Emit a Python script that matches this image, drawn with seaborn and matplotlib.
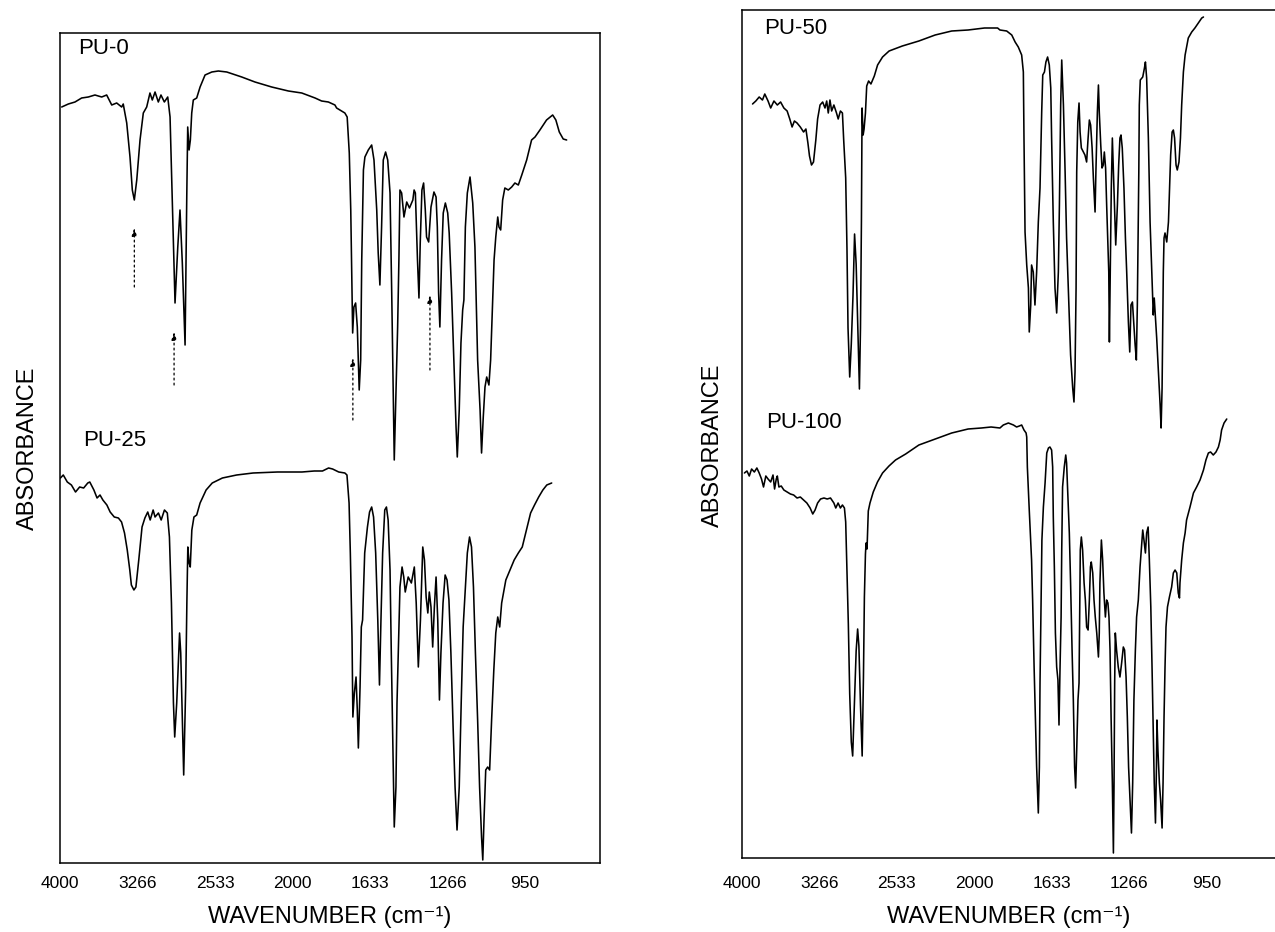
import numpy as np
import pandas as pd
import matplotlib
matplotlib.use("Agg")
import matplotlib.pyplot as plt
import seaborn as sns

# ---------------- data (wavenumber in cm-1, absorbance in arbitrary units) ----------------
tick_wavenumbers = [4000, 3266, 2533, 2000, 1633, 1266, 950]
tick_labels = ["4000", "3266", "2533", "2000", "1633", "1266", "950"]

pu0_wn = [3984, 3921, 3858, 3795, 3732, 3669, 3605, 3558, 3510, 3463,
          3416, 3401, 3368, 3337, 3315, 3296, 3273, 3242, 3211, 3179,
          3148, 3126, 3100, 3069, 3044, 3012, 2980, 2958, 2942, 2911,
          2885, 2864, 2842, 2816, 2800, 2791, 2778, 2766, 2753, 2738,
          2706, 2674, 2627, 2563, 2510, 2452, 2349, 2258, 2143, 2028,
          1956, 1893, 1862, 1830, 1799, 1791, 1752, 1741, 1731, 1724,
          1715, 1709, 1701, 1693, 1684, 1677, 1672, 1664, 1657, 1641,
          1625, 1614, 1601, 1594, 1586, 1578, 1570, 1559, 1549, 1538,
          1530, 1523, 1518, 1510, 1502, 1496, 1491, 1483, 1472, 1459,
          1446, 1430, 1424, 1418, 1408, 1401, 1395, 1387, 1379, 1371,
          1365, 1355, 1344, 1330, 1320, 1314, 1308, 1302, 1294, 1286,
          1276, 1265, 1259, 1249, 1240, 1231, 1226, 1218, 1211, 1204,
          1199, 1193, 1185, 1174, 1163, 1154, 1143, 1133, 1127, 1120,
          1113, 1106, 1097, 1090, 1083, 1076, 1069, 1061, 1056, 1049,
          1041, 1032, 1018, 1004, 991, 977, 963, 943, 923, 909,
          889, 862, 837, 824, 810, 794, 780]
pu0_abs = [75.6, 75.9, 76.1, 76.5, 76.6, 76.8, 76.6, 76.8, 75.8, 76.0,
           75.6, 75.9, 74.0, 70.6, 67.3, 66.3, 68.3, 72.3, 75.0, 75.6,
           77.0, 76.3, 77.1, 76.1, 76.8, 76.1, 76.6, 74.6, 68.3, 56.0,
           61.6, 65.3, 60.0, 51.8, 66.6, 73.6, 71.3, 72.3, 75.0, 76.3,
           76.5, 77.6, 78.8, 79.1, 79.2, 79.1, 78.6, 78.1, 77.6, 77.2,
           77.0, 76.5, 76.2, 76.1, 75.8, 75.5, 75.0, 74.6, 71.0, 65.3,
           53.0, 55.6, 56.0, 53.6, 47.3, 50.3, 60.3, 69.3, 70.6, 71.3,
           71.8, 70.3, 65.3, 61.0, 57.8, 63.6, 70.3, 71.1, 70.3, 67.0,
           57.0, 47.0, 40.3, 47.0, 53.6, 60.3, 67.3, 67.0, 64.6, 66.1,
           65.5, 66.3, 67.3, 67.0, 60.3, 56.5, 62.0, 67.3, 68.0, 65.3,
           62.6, 62.1, 65.6, 67.1, 66.6, 63.6, 57.0, 53.6, 60.3, 65.0,
           66.0, 65.0, 63.0, 57.0, 50.3, 43.6, 40.6, 45.3, 52.0, 55.3,
           56.3, 63.6, 67.0, 68.6, 66.0, 61.6, 50.3, 45.3, 41.0, 44.6,
           47.6, 48.6, 47.8, 50.3, 55.3, 60.3, 62.6, 64.6, 63.6, 63.3,
           66.3, 67.5, 67.3, 67.6, 68.0, 67.8, 68.8, 70.3, 72.3, 72.6,
           73.3, 74.3, 74.8, 74.3, 73.1, 72.4, 72.3]

pu25_wn = [3996, 3969, 3931, 3892, 3853, 3814, 3776, 3737, 3718, 3679,
           3649, 3621, 3594, 3556, 3525, 3486, 3447, 3417, 3389, 3363,
           3339, 3324, 3300, 3281, 3254, 3223, 3196, 3169, 3146, 3118,
           3100, 3068, 3042, 3011, 2984, 2964, 2945, 2926, 2914, 2895,
           2876, 2868, 2857, 2842, 2829, 2810, 2799, 2790, 2778, 2767,
           2752, 2732, 2706, 2674, 2617, 2559, 2482, 2384, 2271, 2103,
           1955, 1897, 1858, 1829, 1810, 1781, 1752, 1742, 1732, 1726,
           1718, 1714, 1707, 1699, 1693, 1688, 1680, 1674, 1668, 1658,
           1645, 1635, 1625, 1616, 1606, 1596, 1588, 1581, 1573, 1563,
           1555, 1547, 1538, 1532, 1524, 1518, 1510, 1505, 1497, 1491,
           1481, 1473, 1466, 1452, 1437, 1423, 1414, 1404, 1394, 1383,
           1375, 1367, 1359, 1352, 1344, 1336, 1328, 1320, 1312, 1304,
           1297, 1287, 1277, 1268, 1260, 1252, 1243, 1235, 1227, 1218,
           1210, 1202, 1193, 1185, 1176, 1168, 1160, 1152, 1143, 1135,
           1127, 1122, 1117, 1110, 1102, 1094, 1086, 1077, 1069, 1061,
           1053, 1045, 1028, 1011, 994, 977, 961, 944, 927, 911,
           894, 877, 861, 841]
pu25_abs = [38.5, 38.8, 38.1, 37.8, 37.1, 37.6, 37.5, 38.0, 38.1, 37.3,
            36.5, 36.8, 36.3, 35.8, 35.1, 34.6, 34.5, 34.1, 33.0, 31.3,
            29.3, 27.8, 27.3, 27.6, 30.3, 33.6, 34.5, 35.1, 34.3, 35.3,
            34.6, 35.0, 34.3, 35.3, 35.0, 32.6, 26.0, 16.0, 12.6, 16.0,
            21.0, 23.0, 21.0, 14.3, 8.8, 17.6, 26.0, 31.6, 30.0, 29.6,
            33.3, 34.6, 34.8, 36.0, 37.3, 38.0, 38.5, 38.8, 39.0, 39.1,
            39.1, 39.2, 39.2, 39.5, 39.4, 39.1, 39.0, 38.8, 36.0, 31.0,
            22.6, 14.6, 17.0, 18.6, 15.3, 11.5, 17.6, 23.6, 24.3, 31.0,
            33.6, 35.1, 35.6, 34.6, 31.0, 24.3, 17.8, 24.3, 31.0, 35.3,
            35.6, 34.3, 29.3, 21.0, 11.0, 3.6, 7.6, 16.0, 22.6, 27.6,
            29.6, 28.6, 27.1, 28.6, 28.0, 29.6, 26.0, 19.6, 24.3, 31.6,
            30.3, 26.6, 25.0, 27.1, 25.6, 21.6, 25.6, 28.6, 24.3, 16.3,
            21.0, 26.0, 28.8, 28.3, 26.3, 21.0, 13.6, 7.6, 3.3, 7.6,
            16.0, 23.6, 27.6, 31.0, 32.6, 31.6, 27.6, 21.0, 14.3, 7.6,
            2.6, 0.3, 4.3, 9.3, 9.6, 9.3, 14.3, 19.3, 23.0, 24.6,
            23.6, 26.0, 28.3, 29.3, 30.3, 31.0, 31.6, 33.3, 35.0, 35.8,
            36.6, 37.3, 37.8, 38.0]

pu50_wn = [3900, 3869, 3837, 3806, 3784, 3753, 3728, 3697, 3665, 3634,
           3603, 3572, 3547, 3525, 3503, 3478, 3447, 3416, 3394, 3375,
           3360, 3341, 3322, 3300, 3283, 3260, 3235, 3213, 3197, 3182,
           3166, 3150, 3129, 3104, 3088, 3067, 3048, 3036, 3017, 3005,
           2995, 2979, 2964, 2948, 2933, 2918, 2902, 2887, 2877, 2868,
           2862, 2852, 2843, 2830, 2818, 2800, 2778, 2746, 2715, 2668,
           2606, 2495, 2381, 2269, 2155, 2042, 1951, 1889, 1878, 1846,
           1822, 1806, 1791, 1775, 1767, 1764, 1759, 1751, 1743, 1739,
           1732, 1728, 1720, 1712, 1704, 1696, 1688, 1680, 1675, 1667,
           1660, 1652, 1644, 1637, 1633, 1625, 1617, 1609, 1601, 1596,
           1590, 1585, 1577, 1569, 1562, 1554, 1543, 1533, 1527, 1522,
           1517, 1514, 1509, 1503, 1498, 1492, 1482, 1475, 1467, 1460,
           1454, 1448, 1441, 1435, 1427, 1423, 1416, 1411, 1407, 1400,
           1394, 1388, 1383, 1377, 1372, 1367, 1362, 1359, 1355, 1350,
           1345, 1340, 1334, 1329, 1321, 1315, 1309, 1304, 1298, 1290,
           1283, 1277, 1269, 1263, 1258, 1252, 1247, 1241, 1236, 1232,
           1229, 1226, 1224, 1220, 1210, 1203, 1199, 1194, 1187, 1180,
           1173, 1167, 1163, 1158, 1153, 1146, 1139, 1135, 1131, 1129,
           1126, 1123, 1119, 1112, 1105, 1099, 1096, 1090, 1085, 1080,
           1074, 1069, 1062, 1056, 1051, 1044, 1037, 1024, 1010, 997,
           983, 969, 962]
pu50_abs = [75.4, 75.7, 76.1, 75.8, 76.4, 75.7, 75.0, 75.7, 75.3, 75.6,
            75.0, 74.7, 73.9, 73.1, 73.7, 73.5, 73.1, 72.6, 72.9, 71.5,
            70.2, 69.3, 69.6, 71.8, 73.9, 75.3, 75.6, 75.0, 75.7, 74.5,
            75.8, 74.7, 75.3, 74.5, 73.9, 74.7, 74.5, 71.8, 68.0, 61.0,
            53.0, 48.1, 51.4, 56.2, 62.4, 59.4, 53.0, 46.9, 53.0, 63.7,
            75.0, 72.3, 72.9, 74.5, 77.2, 77.7, 77.4, 78.2, 79.3, 80.1,
            80.7, 81.2, 81.7, 82.3, 82.7, 82.8, 83.0, 83.0, 82.8, 82.7,
            82.3, 81.6, 81.1, 80.3, 78.6, 72.0, 62.6, 59.3, 57.0, 52.6,
            55.3, 59.3, 58.6, 55.3, 58.6, 63.6, 67.0, 74.6, 78.3, 78.6,
            79.6, 80.1, 79.3, 77.0, 72.0, 63.6, 57.0, 54.5, 58.6, 65.3,
            75.3, 79.8, 75.3, 68.6, 62.0, 57.0, 50.3, 47.0, 45.6, 48.6,
            57.0, 68.6, 73.6, 75.5, 72.6, 71.0, 70.6, 70.3, 69.6, 72.0,
            73.8, 73.3, 71.0, 68.0, 64.6, 68.6, 74.6, 77.3, 74.6, 71.3,
            69.0, 69.3, 70.6, 69.0, 65.3, 62.0, 58.6, 51.6, 58.6, 67.0,
            72.0, 68.6, 64.6, 61.3, 65.3, 69.3, 72.0, 72.3, 71.0, 67.0,
            62.0, 58.6, 53.6, 50.6, 55.3, 55.6, 53.6, 51.3, 49.8, 55.3,
            62.0, 68.6, 75.3, 77.8, 78.1, 79.0, 79.6, 78.0, 72.0, 63.6,
            58.6, 54.3, 56.0, 54.0, 52.0, 48.6, 45.3, 43.0, 47.0, 52.0,
            58.6, 62.0, 62.5, 61.6, 63.6, 68.0, 70.3, 72.6, 72.8, 72.0,
            69.3, 68.8, 69.6, 72.0, 75.3, 78.6, 80.3, 82.0, 82.6, 83.0,
            83.5, 84.0, 84.1]

pu100_wn = [3977, 3953, 3931, 3909, 3883, 3859, 3837, 3815, 3796, 3774,
            3753, 3728, 3706, 3691, 3675, 3665, 3650, 3628, 3603, 3572,
            3541, 3510, 3478, 3447, 3416, 3385, 3354, 3329, 3307, 3283,
            3255, 3223, 3192, 3161, 3129, 3111, 3089, 3067, 3048, 3029,
            3017, 3005, 2992, 2979, 2964, 2951, 2935, 2918, 2904, 2892,
            2877, 2861, 2849, 2840, 2830, 2824, 2815, 2803, 2787, 2756,
            2716, 2668, 2607, 2545, 2472, 2381, 2269, 2155, 2042, 1966,
            1920, 1878, 1862, 1838, 1814, 1799, 1786, 1775, 1764, 1754,
            1751, 1748, 1739, 1728, 1723, 1716, 1710, 1704, 1696, 1691,
            1688, 1683, 1679, 1672, 1664, 1656, 1648, 1641, 1633, 1628,
            1625, 1620, 1615, 1609, 1603, 1598, 1593, 1588, 1585, 1581,
            1573, 1566, 1562, 1555, 1549, 1543, 1536, 1530, 1524, 1519,
            1514, 1508, 1503, 1500, 1497, 1492, 1486, 1479, 1473, 1467,
            1460, 1454, 1449, 1445, 1438, 1432, 1426, 1419, 1411, 1407,
            1404, 1397, 1391, 1385, 1378, 1372, 1366, 1361, 1356, 1351,
            1345, 1340, 1337, 1334, 1331, 1325, 1317, 1309, 1301, 1293,
            1287, 1280, 1274, 1268, 1262, 1256, 1251, 1246, 1240, 1235,
            1228, 1221, 1214, 1210, 1205, 1199, 1194, 1188, 1183, 1177,
            1172, 1167, 1163, 1158, 1154, 1152, 1148, 1142, 1137, 1131,
            1127, 1123, 1119, 1115, 1109, 1101, 1092, 1085, 1078, 1071,
            1065, 1060, 1058, 1051, 1044, 1037, 1031, 1017, 1003, 990,
            976, 962, 952, 942, 933, 922, 911, 901, 894, 888,
            878, 867]
pu100_abs = [38.5, 38.7, 38.2, 38.9, 38.6, 39.0, 38.5, 37.9, 37.1, 38.2,
             37.9, 37.6, 38.3, 36.9, 37.9, 38.2, 37.1, 37.2, 36.8, 36.6,
             36.4, 36.3, 36.0, 36.1, 35.8, 35.5, 35.0, 34.4, 34.8, 35.5,
             35.9, 36.0, 35.9, 36.0, 35.5, 35.0, 35.5, 35.0, 35.3, 35.0,
             33.6, 28.8, 23.4, 16.4, 11.6, 10.2, 15.3, 20.7, 22.9, 21.2,
             15.3, 10.2, 18.0, 26.1, 30.4, 31.5, 30.9, 34.7, 35.5, 36.6,
             37.6, 38.5, 39.2, 39.8, 40.4, 41.3, 41.9, 42.5, 42.9, 43.0,
             43.1, 43.0, 43.3, 43.5, 43.3, 43.1, 43.2, 43.3, 42.8, 42.5,
             42.1, 39.1, 34.8, 29.8, 25.8, 19.1, 14.1, 9.1, 4.5, 9.1,
             17.5, 25.8, 31.8, 35.1, 37.5, 40.5, 41.0, 41.1, 40.8, 39.1,
             34.1, 29.1, 22.5, 19.1, 17.8, 13.3, 19.1, 24.1, 30.8, 37.1,
             39.1, 40.3, 39.5, 35.8, 32.5, 27.5, 20.8, 15.8, 9.1, 7.0,
             10.8, 15.8, 17.5, 24.1, 30.8, 32.1, 30.8, 27.5, 25.8, 23.1,
             22.8, 25.8, 29.1, 29.6, 28.5, 25.8, 24.1, 22.5, 20.1, 22.5,
             27.5, 31.8, 29.8, 26.5, 24.1, 25.8, 25.5, 24.1, 20.8, 14.1,
             7.5, 0.5, 7.5, 17.5, 22.5, 20.8, 19.1, 18.1, 19.5, 21.1,
             20.8, 18.1, 14.1, 9.1, 5.8, 2.5, 7.5, 15.8, 20.8, 24.1,
             25.8, 29.1, 31.5, 32.8, 31.8, 30.5, 32.5, 33.1, 29.8, 25.1,
             19.1, 12.5, 7.5, 3.5, 9.1, 13.8, 10.8, 7.5, 5.8, 3.0,
             7.5, 14.1, 19.1, 23.1, 25.1, 26.1, 27.1, 28.5, 28.8, 28.5,
             26.5, 26.0, 27.5, 29.8, 31.5, 32.5, 33.8, 35.1, 36.5, 37.1,
             37.8, 38.8, 39.8, 40.5, 40.6, 40.3, 40.6, 41.1, 41.8, 42.8,
             43.5, 43.9]

# marked bands in PU-0 (dotted arrows)
mark_wn = [3296, 2920, 1714, 1349]
mark_tip = [63.5, 53.1, 50.5, 56.8]
mark_base = [57.6, 47.8, 44.3, 49.3]

samples = ["PU-0", "PU-25", "PU-50", "PU-100"]
label_wn = [3830, 3782, 3792, 3773]
label_abs = [81.5, 42.2, 83.0, 43.5]

frames = []
for name, wn, ab in [("PU-0", pu0_wn, pu0_abs), ("PU-25", pu25_wn, pu25_abs),
                     ("PU-50", pu50_wn, pu50_abs), ("PU-100", pu100_wn, pu100_abs)]:
    frames.append(pd.DataFrame({"sample": name, "wavenumber": wn, "absorbance": ab}))
df = pd.concat(frames, ignore_index=True)

# ---------------- style ----------------
sns.set_style("white")
plt.rcParams["font.family"] = ["Liberation Sans", "DejaVu Sans"]

# instrument axis: equal spacing between the labelled wavenumbers
scale_nodes = np.array([4734, 4000, 3266, 2533, 2000, 1633, 1266, 950, 634, 318], dtype=float)
scale_pos = np.arange(-1, len(scale_nodes) - 1, dtype=float)


def fwd(w):
    # increasing in wavenumber: -position
    return -np.interp(-np.asarray(w, dtype=float), -scale_nodes, scale_pos)


def inv(v):
    return -np.interp(-np.asarray(v, dtype=float), scale_pos, -scale_nodes)


fig = plt.figure(figsize=(12.75, 9.32), dpi=100)
ax1 = fig.add_axes([60 / 1275, 69 / 932, 540 / 1275, 830 / 932])
ax2 = fig.add_axes([742 / 1275, 74 / 932, 533 / 1275, 848 / 932])

panels = [(ax1, ["PU-0", "PU-25"], (4000, 644), (0, 83.0), 9),
          (ax2, ["PU-50", "PU-100"], (4000, 670), (0, 84.8), 13)]

for ax, names, xl, yl, tpad in panels:
    sub = df[df["sample"].isin(names)]
    sns.lineplot(data=sub, x="wavenumber", y="absorbance", units="sample",
                 estimator=None, sort=False, color="black", linewidth=1.15,
                 legend=False, ax=ax)
    ax.set_xscale("function", functions=(fwd, inv))
    ax.set_xlim(*xl)
    ax.set_ylim(*yl)
    ax.set_xticks(tick_wavenumbers)
    ax.set_xticklabels(tick_labels)
    ax.minorticks_off()
    ax.set_yticks([])
    ax.tick_params(axis="x", direction="in", length=5, width=1.0, pad=tpad,
                   labelsize=12.5, colors="black")
    for s in ax.spines.values():
        s.set_color("black")
        s.set_linewidth(1.1)
    ax.set_xlabel("WAVENUMBER (cm\u207b\u00b9)", fontsize=17, color="black")
    ax.set_ylabel("ABSORBANCE", fontsize=17, color="black")
    ax.set_facecolor("white")
    for name in names:
        i = samples.index(name)
        ax.text(label_wn[i], label_abs[i], name, fontsize=16, ha="left",
                va="center", color="black")

ax1.xaxis.set_label_coords(0.5, -0.052)
ax1.yaxis.set_label_coords(-0.039, 0.5)
ax2.xaxis.set_label_coords(0.5, -0.057)
ax2.yaxis.set_label_coords(-0.034, 0.487)
ax2.spines["right"].set_visible(False)

for w, tip, base in zip(mark_wn, mark_tip, mark_base):
    ax1.annotate("", xy=(w, tip), xytext=(w, base),
                 arrowprops=dict(arrowstyle="-|>,head_length=0.45,head_width=0.15",
                                 linestyle=(0, (1.5, 2.5)), linewidth=0.9,
                                 color="black", shrinkA=0, shrinkB=0))

fig.savefig("out.png", dpi=100, facecolor="white")
